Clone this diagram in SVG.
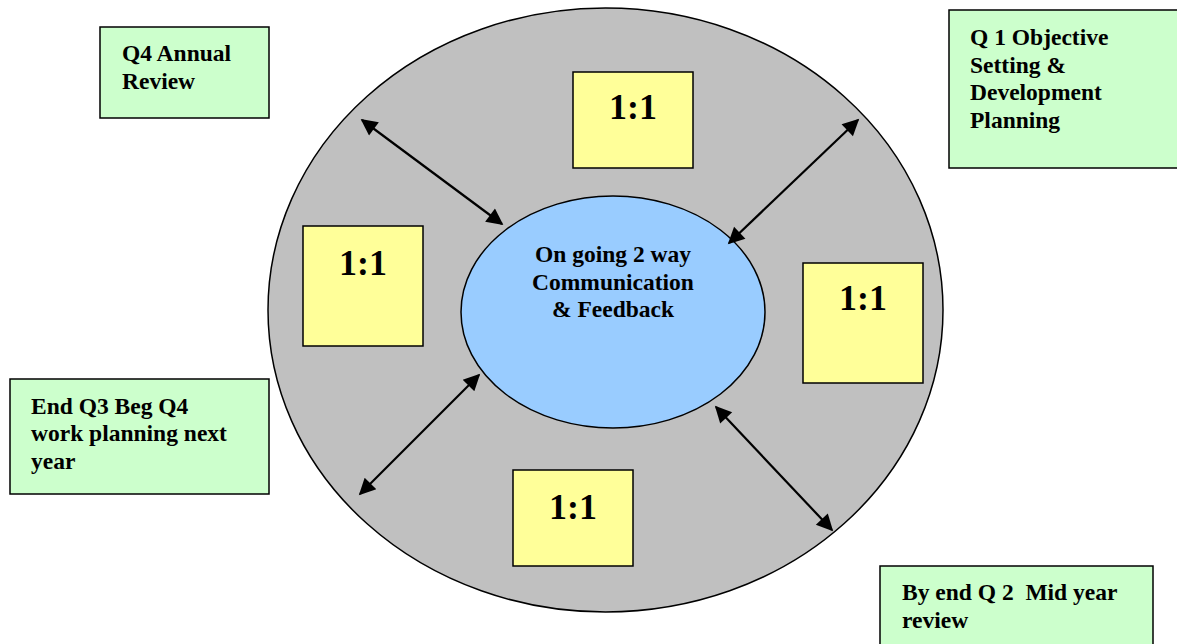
<svg xmlns="http://www.w3.org/2000/svg" width="1177" height="644" viewBox="0 0 1177 644">
<style>
.lbl{font-family:"Liberation Serif","Times New Roman",serif;font-weight:bold;font-size:23.5px;fill:#000}
.big{font-family:"Liberation Serif","Times New Roman",serif;font-weight:bold;font-size:36px;fill:#000;text-anchor:middle}
.green{fill:#CCFFCC;stroke:#000;stroke-width:1.5}
.yellow{fill:#FFFF99;stroke:#000;stroke-width:1.5}
.conn{stroke:#000;stroke-width:2.2;fill:none;marker-start:url(#ah);marker-end:url(#ah)}
</style>
<defs>
<marker id="ah" viewBox="0 0 10 10" refX="9" refY="5" markerWidth="9" markerHeight="7.5" orient="auto-start-reverse" markerUnits="strokeWidth">
<path d="M0,0 L10,5 L0,10 z" fill="#000"/>
</marker>
</defs>
<rect width="1177" height="644" fill="#fff"/>
<g id="outer"><ellipse cx="605.5" cy="310" rx="337.5" ry="302" fill="#C0C0C0" stroke="#000" stroke-width="1.5"/></g>
<g id="center"><ellipse cx="613" cy="312" rx="152" ry="116" fill="#99CCFF" stroke="#000" stroke-width="1.5"/>
<text class="lbl" text-anchor="middle" x="613" y="262">On going 2 way</text>
<text class="lbl" text-anchor="middle" x="613" y="290">Communication</text>
<text class="lbl" text-anchor="middle" x="613" y="317">&amp; Feedback</text></g>
<g id="connectors">
<line class="conn" x1="362" y1="120" x2="502" y2="224"/>
<line class="conn" x1="858" y1="120" x2="729" y2="243"/>
<line class="conn" x1="479" y1="375" x2="360" y2="494"/>
<line class="conn" x1="716" y1="407" x2="832" y2="530"/>
</g>
<g id="one-top"><rect class="yellow" x="573" y="72" width="120" height="96"/><text class="big" x="633" y="119">1:1</text></g>
<g id="one-left"><rect class="yellow" x="303" y="226" width="120" height="120"/><text class="big" x="363" y="275">1:1</text></g>
<g id="one-right"><rect class="yellow" x="803" y="263" width="120" height="120"/><text class="big" x="863" y="310">1:1</text></g>
<g id="one-bottom"><rect class="yellow" x="513" y="470" width="120" height="96"/><text class="big" x="573" y="519">1:1</text></g>
<g id="q4"><rect class="green" x="100" y="27" width="169" height="91"/>
<text class="lbl" x="122" y="61">Q4 Annual</text><text class="lbl" x="122" y="89">Review</text></g>
<g id="q1"><rect class="green" x="949" y="10" width="232" height="158"/>
<text class="lbl" x="970" y="45">Q 1 Objective</text><text class="lbl" x="970" y="73">Setting &amp;</text>
<text class="lbl" x="970" y="100">Development</text><text class="lbl" x="970" y="128">Planning</text></g>
<g id="q3"><rect class="green" x="10" y="379" width="259" height="115"/>
<text class="lbl" x="31" y="414">End Q3 Beg Q4</text><text class="lbl" x="31" y="441">work planning next</text><text class="lbl" x="31" y="469">year</text></g>
<g id="q2"><rect class="green" x="880" y="566" width="273" height="90"/>
<text class="lbl" x="902" y="600" xml:space="preserve">By end Q 2  Mid year</text><text class="lbl" x="902" y="628">review</text></g>
</svg>
